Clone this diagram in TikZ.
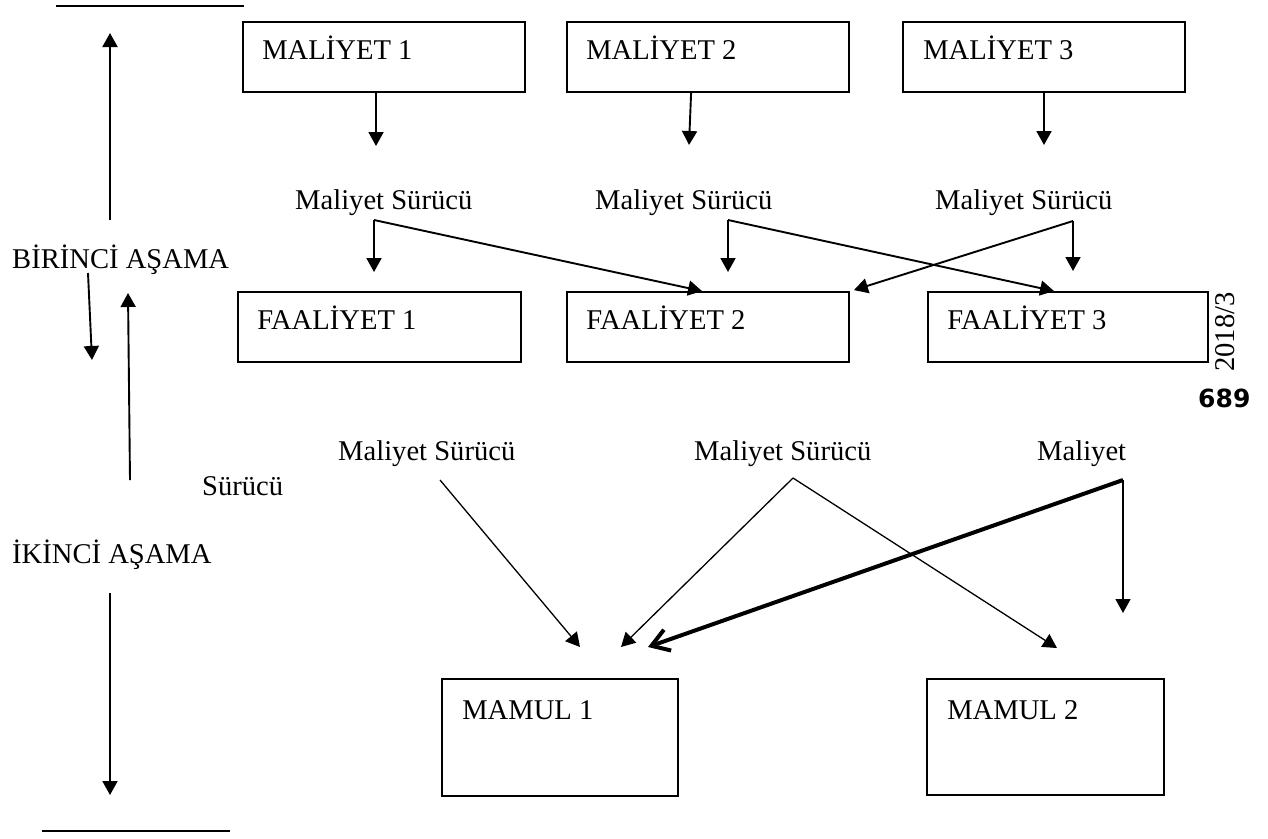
\documentclass[tikz,border=0pt]{standalone}
\usepackage{fontspec}
\setmainfont{Liberation Serif}
\newfontfamily\numfont{DejaVu Sans}
\usetikzlibrary{arrows.meta,calc}
\begin{document}
\begin{tikzpicture}[x=1pt,y=-1pt,
  txt/.style={inner sep=0pt, anchor=base west, font=\fontsize{28.6}{34}\selectfont},
  box/.style={draw, line width=1.8pt, inner sep=0pt},
  arr/.style={line width=1.9pt, -{Triangle[length=14pt,width=15pt]}},
  thinarr/.style={line width=1.3pt, -{Triangle[length=14pt,width=15pt]}},
  thickarr/.style={line width=4pt, -{Straight Barb[length=17pt,width=22pt]}},
  rule/.style={line width=1.8pt}]
\useasboundingbox[fill=white] (0,0) rectangle (1268,838);

% boxes
\node[box, minimum width=282pt, minimum height=70pt] (m1) at (384,57) {};
\node[box, minimum width=282pt, minimum height=70pt] (m2) at (708,57) {};
\node[box, minimum width=282pt, minimum height=70pt] (m3) at (1044,57) {};
\node[box, minimum width=283pt, minimum height=70pt] (f1) at (379.5,327) {};
\node[box, minimum width=282pt, minimum height=70pt] (f2) at (708,327) {};
\node[box, minimum width=280pt, minimum height=70pt] (f3) at (1068,327) {};
\node[box, minimum width=236pt, minimum height=117pt] (p1) at (560,737.5) {};
\node[box, minimum width=237pt, minimum height=116pt] (p2) at (1045.5,737) {};

\node[txt] (m1t) at ($(m1.north west)+(20,38)$) {MALİYET 1};
\node[txt] (m2t) at ($(m2.north west)+(20,38)$) {MALİYET 2};
\node[txt] (m3t) at ($(m3.north west)+(21,38)$) {MALİYET 3};
\node[txt] (f1t) at ($(f1.north west)+(20,38)$) {FAALİYET 1};
\node[txt] (f2t) at ($(f2.north west)+(20,38)$) {FAALİYET 2};
\node[txt] (f3t) at ($(f3.north west)+(20,38)$) {FAALİYET 3};
\node[txt] (p1t) at ($(p1.north west)+(21,41)$) {MAMUL 1};
\node[txt] (p2t) at ($(p2.north west)+(21,41)$) {MAMUL 2};

% labels
\node[txt] (s1) at (295,209) {Maliyet Sürücü};
\node[txt] (s2) at (595,209) {Maliyet Sürücü};
\node[txt] (s3) at (935,209) {Maliyet Sürücü};
\node[txt] (t1) at (338,460) {Maliyet Sürücü};
\node[txt] (t2) at (694,460) {Maliyet Sürücü};
\node[txt] (t3) at (1037,460) {Maliyet};
\node[txt] (st1) at (12,268) {BİRİNCİ AŞAMA};
\node[txt] (st2) at (12,563) {İKİNCİ AŞAMA};
\node[txt] (sur) at (202,495) {Sürücü};
\node[txt, anchor=center, rotate=90] (yr) at (1225,332) {2018/3};
\node[inner sep=0pt, anchor=base west, font=\numfont\bfseries\fontsize{25}{30}\selectfont] (pg) at (1198,407) {689};

% coordinates
\coordinate (a1) at (376,146);
\coordinate (a2) at (689,145);
\coordinate (a3) at (1044,145);
\coordinate (c1) at (374,220);
\coordinate (c2) at (728,220);
\coordinate (c3) at (1073,221);
\coordinate (d1) at (374,272);
\coordinate (d2) at (728,272);
\coordinate (d3) at (1073,271);
\coordinate (e1) at (440,480);
\coordinate (e2) at (793,478);
\coordinate (e3) at (1123,480);
\coordinate (g1) at (580,647);
\coordinate (g2) at (621,647);
\coordinate (g3) at (648,647);
\coordinate (g4) at (1057,648);
\coordinate (g5) at (1123,613);

% top arrows
\draw[arr] (m1.south -| a1) -- (a1);
\draw[arr] ($(m2.south west)+(125,0)$) -- (a2);
\draw[arr] (m3.south -| a3) -- (a3);

% first stage drivers
\draw[arr] (c1) -- (d1);
\draw[arr] (c1) -- ($(f2.north west)+(136,0)$);
\draw[arr] (c2) -- (d2);
\draw[arr] (c2) -- ($(f3.north west)+(127,0)$);
\draw[arr] (c3) -- (d3);
\draw[arr] (c3) -- ($(f2.north east)+(4,-1)$);

% second stage drivers
\draw[thinarr] (e1) -- (g1);
\draw[thinarr] (e2) -- (g2);
\draw[thinarr] (e2) -- (g4);
\draw[thinarr] (e3) -- (g5);
\draw[thickarr] (e3) -- (g3);

% left side
\coordinate (l1s) at (110,220);
\coordinate (l1e) at (110,33);
\coordinate (l2s) at (88,273);
\coordinate (l2e) at (92,360);
\coordinate (l3s) at (130,480);
\coordinate (l3e) at (128,293);
\coordinate (l4s) at (110,593);
\coordinate (l4e) at (110,795);
\draw[arr] (l1s) -- (l1e);
\draw[arr] (l2s) -- (l2e);
\draw[arr] (l3s) -- (l3e);
\draw[arr] (l4s) -- (l4e);
\coordinate (r1a) at (56,6);
\coordinate (r1b) at (244,6);
\coordinate (r2a) at (42,831);
\coordinate (r2b) at (230,831);
\draw[rule] (r1a) -- (r1b);
\draw[rule] (r2a) -- (r2b);
\end{tikzpicture}
\end{document}
